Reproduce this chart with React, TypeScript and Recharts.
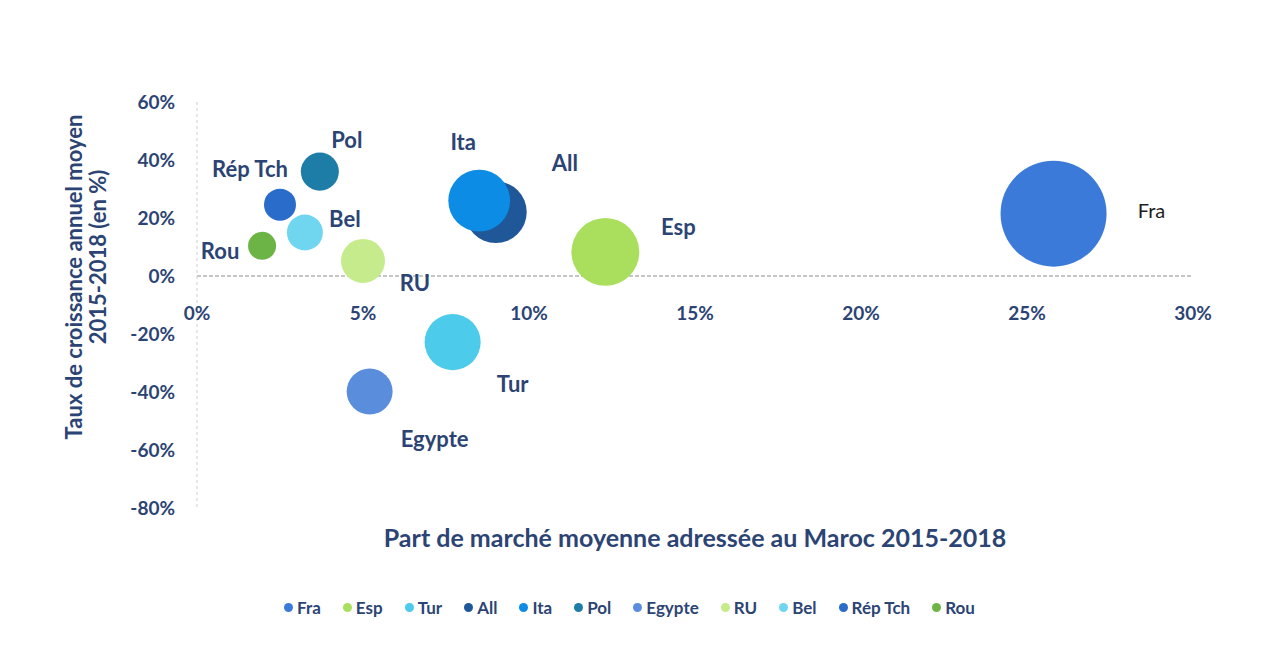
import React from 'react';
import { ScatterChart, Scatter, XAxis, YAxis, ZAxis, ReferenceLine, Legend, Label } from 'recharts';

const countries = ['Fra', 'Esp', 'Tur', 'All', 'Ita', 'Pol', 'Egypte', 'RU', 'Bel', 'Rép Tch', 'Rou'];
const marketShare = [0.258, 0.123, 0.077, 0.09, 0.085, 0.037, 0.052, 0.05, 0.0325, 0.025, 0.0196];
const growthRate = [0.215, 0.083, -0.228, 0.22, 0.26, 0.36, -0.398, 0.052, 0.15, 0.246, 0.104];
const bubbleSize = [100, 41, 28, 34, 34, 12.9, 18.8, 17.2, 11.5, 9.1, 7];
const xTicks = [0, 0.05, 0.1, 0.15, 0.2, 0.25, 0.3];
const yTicks = [-0.8, -0.6, -0.4, -0.2, 0, 0.2, 0.4, 0.6];

const colors = ['#3b7ad8', '#a9df5c', '#4ccbeb', '#1f5799', '#0c8ce4', '#1e7da6', '#5a8ddb', '#c6eb8c', '#70d5ef', '#2a6cc9', '#6db447'];
const labelOffsets: [number, number][] = [
  [98, -4], [73, -25], [60, 41], [69, -50], [-16, -59], [27, -32], [65, 47], [52, 22], [40, -14], [-30, -36], [-42, 5],
];

const W = 1285;
const H = 655;
const PLOT_LEFT = 197;
const PLOT_RIGHT = 1193;
const PLOT_TOP = 102;
const PLOT_BOTTOM = 508;
const Y_AXIS_W = 90;
const X_AXIS_H = 60;
const LEGEND_H = 24;
const NAVY = '#2c4474';
const FONT = 'Lato, "Open Sans", sans-serif';
const Y_MIN = -0.8;
const Y_MAX = 0.6;

const pct = (v: number) => `${Math.round(v * 100)}%`;

const makeShape = (idx: number) => (props: any) => {
  const { cx, cy, size, width } = props;
  const r = size ? Math.sqrt(size / Math.PI) : (width || 0) / 2;
  const [dx, dy] = labelOffsets[idx];
  const isFra = countries[idx] === 'Fra';
  return (
    <g>
      <circle cx={cx} cy={cy} r={r} fill={colors[idx]} />
      <text
        x={cx + dx}
        y={cy + dy}
        textAnchor="middle"
        dominantBaseline="central"
        fontFamily={FONT}
        fontWeight={isFra ? 400 : 700}
        fontSize={isFra ? 20 : 22}
        fill={isFra ? '#1e1e1e' : NAVY}
      >
        {countries[idx]}
      </text>
    </g>
  );
};

const XTick = (props: any) => {
  const { x, y, payload } = props;
  const plotH = PLOT_BOTTOM - PLOT_TOP;
  const zeroFromBottom = (plotH * (0 - Y_MIN)) / (Y_MAX - Y_MIN);
  return (
    <text
      x={x}
      y={y - zeroFromBottom + 36}
      textAnchor="middle"
      dominantBaseline="central"
      fontFamily={FONT}
      fontWeight={700}
      fontSize={19}
      fill={NAVY}
    >
      {pct(payload.value)}
    </text>
  );
};

const LegendContent = () => (
  <div
    style={{
      display: 'flex',
      justifyContent: 'center',
      alignItems: 'center',
      gap: 22,
      height: LEGEND_H,
      paddingRight: 26,
      fontFamily: FONT,
      fontWeight: 700,
      fontSize: 17,
      color: NAVY,
    }}
  >
    {countries.map((c, i) => (
      <div key={c} style={{ display: 'flex', alignItems: 'center', gap: 4 }}>
        <span style={{ width: 9, height: 9, borderRadius: '50%', background: colors[i], display: 'inline-block' }} />
        <span>{c}</span>
      </div>
    ))}
  </div>
);

export default function App() {
  return (
    <div style={{ position: 'absolute', left: 0, top: 0, width: W, height: H, background: '#ffffff' }}>
      <ScatterChart
        width={W}
        height={H}
        margin={{
          top: PLOT_TOP,
          right: W - PLOT_RIGHT,
          bottom: H - PLOT_BOTTOM - X_AXIS_H - LEGEND_H,
          left: PLOT_LEFT - Y_AXIS_W,
        }}
      >
        <XAxis
          type="number"
          dataKey="x"
          domain={[0, 0.3]}
          ticks={xTicks}
          axisLine={false}
          tickLine={false}
          tickSize={0}
          tickMargin={0}
          height={X_AXIS_H}
          tick={<XTick />}
          interval={0}
        >
          <Label
            content={(p: any) => {
              const vb = p.viewBox || {};
              return (
                <text
                  x={vb.x + vb.width / 2}
                  y={vb.y + 29}
                  textAnchor="middle"
                  dominantBaseline="central"
                  fontFamily={FONT}
                  fontWeight={700}
                  fontSize={25}
                  fill={NAVY}
                >
                  Part de marché moyenne adressée au Maroc 2015-2018
                </text>
              );
            }}
          />
        </XAxis>
        <YAxis
          type="number"
          dataKey="y"
          domain={[Y_MIN, Y_MAX]}
          ticks={yTicks}
          tickFormatter={pct}
          width={Y_AXIS_W}
          axisLine={{ stroke: '#cfcfcf', strokeDasharray: '3 3' }}
          tickLine={false}
          tickSize={0}
          tickMargin={22}
          interval={0}
          tick={{ fontFamily: FONT, fontWeight: 700, fontSize: 19, fill: NAVY }}
        >
          <Label
            content={(p: any) => {
              const vb = p.viewBox || {};
              const x1 = vb.x - 34;
              const x2 = vb.x - 10;
              const c1 = 277;
              const c2 = 257;
              return (
                <g>
                  <text
                    x={x1}
                    y={c1}
                    transform={`rotate(-90 ${x1} ${c1})`}
                    textAnchor="middle"
                    dominantBaseline="central"
                    fontFamily={FONT}
                    fontWeight={700}
                    fontSize={22}
                    fill={NAVY}
                  >
                    Taux de croissance annuel moyen
                  </text>
                  <text
                    x={x2}
                    y={c2}
                    transform={`rotate(-90 ${x2} ${c2})`}
                    textAnchor="middle"
                    dominantBaseline="central"
                    fontFamily={FONT}
                    fontWeight={700}
                    fontSize={22}
                    fill={NAVY}
                  >
                    2015-2018 (en %)
                  </text>
                </g>
              );
            }}
          />
        </YAxis>
        <ZAxis type="number" dataKey="z" domain={[0, 100]} range={[0, Math.PI * 53 * 53]} />
        <ReferenceLine y={0} stroke="#8c8c8c" strokeDasharray="4 2" strokeWidth={1} />
        {countries.map((c, i) => (
          <Scatter
            key={c}
            name={c}
            data={[{ x: marketShare[i], y: growthRate[i], z: bubbleSize[i] }]}
            fill={colors[i]}
            shape={makeShape(i)}
            isAnimationActive={false}
          />
        ))}
        <Legend
          content={<LegendContent />}
          wrapperStyle={{ position: 'absolute', top: 595, left: 0, width: W, height: LEGEND_H }}
        />
      </ScatterChart>
    </div>
  );
}
